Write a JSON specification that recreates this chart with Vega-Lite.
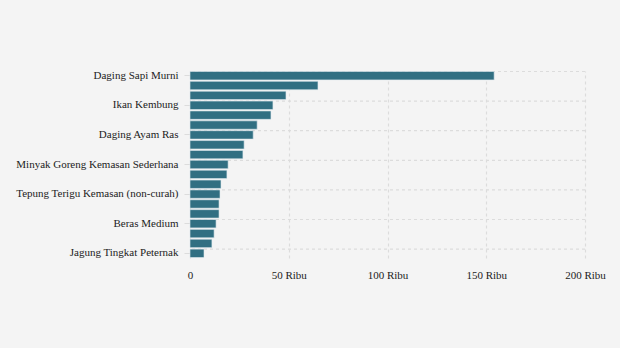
{
  "$schema": "https://vega.github.io/schema/vega-lite/v6.json",
  "autosize": "none",
  "width": 395,
  "height": 187,
  "padding": {"left": 190, "top": 71, "right": 35, "bottom": 90},
  "background": "#f4f4f4",
  "data": {"values": [
    {"komoditas": "Daging Sapi Murni", "harga": 154000, "label": true},
    {"komoditas": "Cabai Rawit Merah", "harga": 64800, "label": false},
    {"komoditas": "Cabai Merah Keriting", "harga": 48600, "label": false},
    {"komoditas": "Ikan Kembung", "harga": 42000, "label": true},
    {"komoditas": "Ikan Bandeng", "harga": 41000, "label": false},
    {"komoditas": "Bawang Merah", "harga": 34000, "label": false},
    {"komoditas": "Daging Ayam Ras", "harga": 32000, "label": true},
    {"komoditas": "Telur Ayam Ras", "harga": 27400, "label": false},
    {"komoditas": "Ikan Tongkol", "harga": 26800, "label": false},
    {"komoditas": "Minyak Goreng Kemasan Sederhana", "harga": 19300, "label": true},
    {"komoditas": "Gula Konsumsi", "harga": 18700, "label": false},
    {"komoditas": "Minyak Goreng Curah", "harga": 15700, "label": false},
    {"komoditas": "Tepung Terigu Kemasan (non-curah)", "harga": 15200, "label": true},
    {"komoditas": "Beras Premium", "harga": 14700, "label": false},
    {"komoditas": "Tepung Terigu Curah", "harga": 14700, "label": false},
    {"komoditas": "Beras Medium", "harga": 13200, "label": true},
    {"komoditas": "Kedelai Biji Kering (Impor)", "harga": 12200, "label": false},
    {"komoditas": "Garam Halus Beryodium", "harga": 11100, "label": false},
    {"komoditas": "Jagung Tingkat Peternak", "harga": 7100, "label": true}
  ]},
  "encoding": {
    "y": {
      "field": "komoditas", "type": "nominal", "sort": null,
      "scale": {
        "domain": ["Daging Sapi Murni", "Cabai Rawit Merah", "Cabai Merah Keriting", "Ikan Kembung", "Ikan Bandeng", "Bawang Merah", "Daging Ayam Ras", "Telur Ayam Ras", "Ikan Tongkol", "Minyak Goreng Kemasan Sederhana", "Gula Konsumsi", "Minyak Goreng Curah", "Tepung Terigu Kemasan (non-curah)", "Beras Premium", "Tepung Terigu Curah", "Beras Medium", "Kedelai Biji Kering (Impor)", "Garam Halus Beryodium", "Jagung Tingkat Peternak"],
        "paddingInner": 0.15, "paddingOuter": 0.05
      },
      "axis": {
        "title": null,
        "values": ["Daging Sapi Murni", "Ikan Kembung", "Daging Ayam Ras", "Minyak Goreng Kemasan Sederhana", "Tepung Terigu Kemasan (non-curah)", "Beras Medium", "Jagung Tingkat Peternak"],
        "domain": false,
        "grid": false,
        "tickColor": "#dcdcdc", "tickSize": 6,
        "labelFont": "Liberation Serif", "labelFontSize": 11, "labelColor": "#222222", "labelPadding": 6
      }
    }
  },
  "layer": [
    {
      "transform": [{"filter": "datum.label"}],
      "mark": {"type": "rule", "color": "#dcdcdc", "strokeDash": [3, 3], "strokeWidth": 1.2},
      "encoding": {
        "y": {"field": "komoditas", "type": "nominal", "sort": null, "bandPosition": 0}
      }
    },
    {
      "mark": {"type": "bar", "color": "#316f82", "stroke": "#dfeaee", "strokeWidth": 0.6},
      "encoding": {
        "x": {
          "field": "harga", "type": "quantitative",
          "scale": {"domain": [0, 200000], "nice": false},
          "axis": {
            "title": null, "values": [0, 50000, 100000, 150000, 200000],
            "labelExpr": "datum.value == 0 ? '0' : (datum.value / 1000) + ' Ribu'",
            "domain": false, "ticks": false, "labelFlush": false,
            "grid": true, "gridDash": [3, 3], "gridColor": "#dcdcdc", "gridWidth": 1.2,
            "labelFont": "Liberation Serif", "labelFontSize": 11, "labelColor": "#222222", "labelPadding": 11
          }
        }
      }
    }
  ],
  "config": {"view": {"stroke": null}}
}
